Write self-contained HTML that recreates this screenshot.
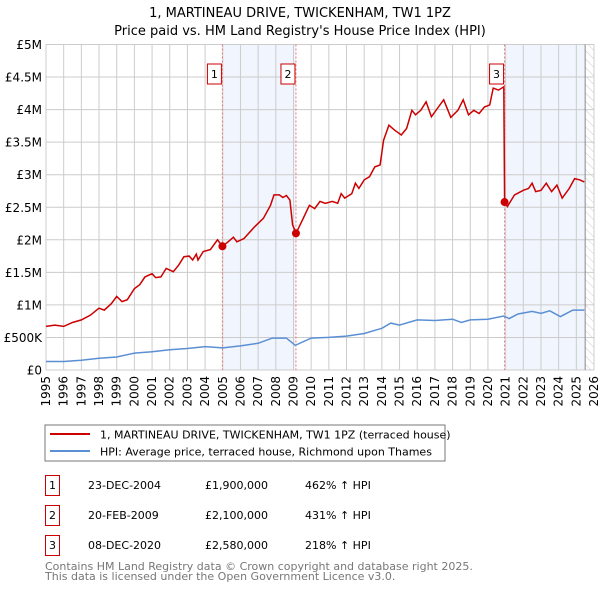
<!DOCTYPE html>
<html><head><meta charset="utf-8"><style>
body{margin:0;background:#fff;width:600px;height:590px;overflow:hidden;font-family:"DejaVu Sans","Liberation Sans",sans-serif}
svg text{font-family:"DejaVu Sans","Liberation Sans",sans-serif}
</style></head><body>
<svg id="c" width="600" height="590" xmlns="http://www.w3.org/2000/svg">
<defs><pattern id="hatch" width="6" height="6" patternUnits="userSpaceOnUse" patternTransform="rotate(-45)"><line x1="0" y1="0" x2="0" y2="6" stroke="#ccc" stroke-width="1"/></pattern></defs>
<text x="300" y="17" text-anchor="middle" font-size="13">1, MARTINEAU DRIVE, TWICKENHAM, TW1 1PZ</text>
<text x="300" y="35" text-anchor="middle" font-size="13">Price paid vs. HM Land Registry's House Price Index (HPI)</text>
<g id="plot"></g>
<rect x="45" y="425" width="400" height="36" fill="none" stroke="#777"/>
<line x1="50" y1="434" x2="90" y2="434" stroke="#cc0000" stroke-width="2"/>
<text x="100" y="438.5" font-size="11">1, MARTINEAU DRIVE, TWICKENHAM, TW1 1PZ (terraced house)</text>
<line x1="50" y1="451" x2="90" y2="451" stroke="#5b8fd4" stroke-width="2"/>
<text x="100" y="455.5" font-size="11">HPI: Average price, terraced house, Richmond upon Thames</text>
<g id="table" font-size="11"></g>
<text x="45" y="570" font-size="11" fill="#777">Contains HM Land Registry data © Crown copyright and database right 2025.</text>
<text x="45" y="580" font-size="11" fill="#777">This data is licensed under the Open Government Licence v3.0.</text>
</svg>
<script>
const redYears=[1995,1995.5,1996,1996.5,1997,1997.5,1998,1998.3,1998.7,1999,1999.3,1999.6,2000,2000.3,2000.6,2001,2001.2,2001.5,2001.8,2002.2,2002.5,2002.8,2003.1,2003.3,2003.5,2003.6,2003.9,2004.3,2004.7,2004.98,2005.3,2005.6,2005.8,2006.2,2006.8,2007.3,2007.7,2007.9,2008.2,2008.4,2008.6,2008.8,2008.95,2009.14,2009.5,2009.9,2010.2,2010.5,2010.8,2011.2,2011.5,2011.7,2011.9,2012.3,2012.5,2012.7,2013,2013.3,2013.6,2013.9,2014.1,2014.4,2014.7,2015.1,2015.4,2015.7,2015.9,2016.2,2016.5,2016.8,2017.2,2017.5,2017.9,2018.3,2018.6,2018.9,2019.2,2019.5,2019.8,2020.1,2020.3,2020.6,2020.9,2020.94,2021.1,2021.5,2022,2022.3,2022.5,2022.7,2023,2023.3,2023.6,2023.9,2024.2,2024.6,2024.9,2025.2,2025.45];
const redValues=[0.67,0.69,0.67,0.73,0.77,0.84,0.95,0.92,1.02,1.13,1.05,1.08,1.25,1.31,1.43,1.48,1.42,1.43,1.56,1.51,1.61,1.74,1.75,1.69,1.78,1.69,1.82,1.85,2.0,1.9,1.97,2.04,1.97,2.02,2.2,2.33,2.53,2.69,2.69,2.65,2.68,2.61,2.23,2.1,2.3,2.53,2.48,2.59,2.56,2.59,2.56,2.71,2.64,2.71,2.87,2.79,2.92,2.97,3.12,3.15,3.53,3.76,3.69,3.61,3.71,3.99,3.92,3.99,4.12,3.89,4.04,4.15,3.88,3.99,4.15,3.92,3.99,3.94,4.04,4.07,4.33,4.3,4.35,2.58,2.51,2.69,2.76,2.79,2.87,2.74,2.76,2.87,2.74,2.84,2.64,2.79,2.94,2.92,2.89];
const hpiYears=[1995,1996,1997,1998,1999,2000,2001,2002,2003,2004,2005,2006,2007,2007.8,2008.6,2009.1,2010,2011,2012,2013,2014,2014.5,2015,2016,2017,2018,2018.5,2019,2020,2020.9,2021.2,2021.7,2022.5,2023,2023.5,2024.1,2024.8,2025.45];
const hpiValues=[0.13,0.13,0.15,0.18,0.2,0.26,0.28,0.31,0.33,0.36,0.34,0.37,0.41,0.49,0.49,0.38,0.49,0.5,0.52,0.56,0.64,0.72,0.69,0.77,0.76,0.78,0.73,0.77,0.78,0.83,0.79,0.86,0.9,0.87,0.91,0.82,0.92,0.92];
const saleLabels=["1","2","3"];
const saleYears=[2004.98,2009.14,2020.94];
const saleValues=[1.9,2.1,2.58];
const saleDates=["23-DEC-2004","20-FEB-2009","08-DEC-2020"];
const salePrices=["£1,900,000","£2,100,000","£2,580,000"];
const saleHpi=["462% ↑ HPI","431% ↑ HPI","218% ↑ HPI"];
const yTicks=[0,0.5,1,1.5,2,2.5,3,3.5,4,4.5,5];
const yTickLabels=["£0","£500K","£1M","£1.5M","£2M","£2.5M","£3M","£3.5M","£4M","£4.5M","£5M"];

const X0=46,X1=594,Y0=370,Y1=44.5,YR0=1995,YR1=2026;
const xs=y=>X0+(y-YR0)/(YR1-YR0)*(X1-X0);
const ys=v=>Y0-v/5*(Y0-Y1);
const NS="http://www.w3.org/2000/svg";
const plot=document.getElementById('plot');
function mk(tag,attrs,parent){const e=document.createElementNS(NS,tag);for(const k in attrs)e.setAttribute(k,attrs[k]);(parent||plot).appendChild(e);return e;}

{const r=mk('rect',{x:xs(saleYears[0]),y:Y1,width:xs(saleYears[1])-xs(saleYears[0]),height:Y0-Y1,fill:'#eef3fc',opacity:0.8});

}
{const r=mk('rect',{x:xs(saleYears[2]),y:Y1,width:xs(2025.5)-xs(saleYears[2]),height:Y0-Y1,fill:'#eef3fc',opacity:0.8});

}
{const h=mk('rect',{x:xs(2025.5),y:Y1,width:X1-xs(2025.5),height:Y0-Y1,fill:'url(#hatch)'});

}
for(let yr=YR0;yr<=YR1;yr++){const x=xs(yr);
const g=mk('line',{x1:x,x2:x,y1:Y1,y2:Y0,stroke:'#ccc','stroke-width':1});


const t=mk('text',{x:0,y:0,'font-size':12,transform:`translate(${x+4},${Y0+6}) rotate(-90)`,'text-anchor':'end'});
t.textContent=yr;

}
yTicks.forEach((v,i)=>{const y=ys(v);
const g=mk('line',{x1:X0,x2:X1,y1:y,y2:y,stroke:'#ccc','stroke-width':1});


const t=mk('text',{x:X0-4,y:y+4.5,'font-size':12,'text-anchor':'end'});
t.textContent=yTickLabels[i];

});
{const l=mk('line',{x1:xs(2025.5),x2:xs(2025.5),y1:Y1,y2:Y0,stroke:'#888'});

}
saleYears.forEach(s=>{const l=mk('line',{x1:xs(s),x2:xs(s),y1:Y1,y2:Y0,stroke:'#e77','stroke-dasharray':'2,2'});

});
const hp=mk('path',{d:hpiYears.map((y,i)=>(i?'L':'M')+xs(y).toFixed(1)+','+ys(hpiValues[i]).toFixed(1)).join(''),fill:'none',stroke:'#5b8fd4','stroke-width':1.5});


const rp=mk('path',{d:redYears.map((y,i)=>(i?'L':'M')+xs(y).toFixed(1)+','+ys(redValues[i]).toFixed(1)).join(''),fill:'none',stroke:'#cc0000','stroke-width':1.5});


saleYears.forEach((s,i)=>{const c=mk('circle',{cx:xs(s),cy:ys(saleValues[i]),r:4,fill:'#cc0000'});


const b=mk('rect',{x:xs(s)-15,y:64,width:14,height:20,fill:'#fff',stroke:'#cc0000'});


const t=mk('text',{x:xs(s)-8,y:78,'font-size':11,'text-anchor':'middle'});
t.textContent=saleLabels[i];

});
const tb=document.getElementById('table');
saleLabels.forEach((l,i)=>{const y0=475+i*30;
const b=mk('rect',{x:45.5,y:y0+0.5,width:14,height:20,fill:'none',stroke:'#cc0000'},tb);


const cells=[[52.5,l,'middle'],[88,saleDates[i],'start'],[205,salePrices[i],'start'],[305,saleHpi[i],'start']];
cells.forEach(c=>{const t=mk('text',{x:c[0],y:y0+14,'text-anchor':c[2]},tb);t.textContent=c[1];

});});
</script>
</body></html>
